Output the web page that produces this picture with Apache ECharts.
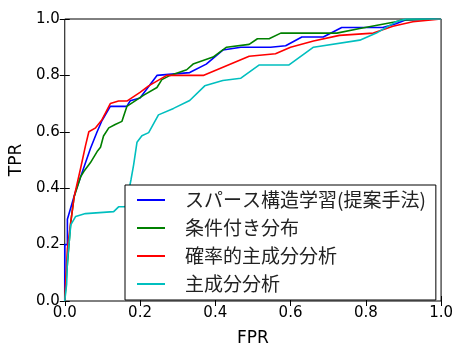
<!DOCTYPE html>
<html>
<head>
<meta charset="utf-8">
<script src="https://cdn.jsdelivr.net/npm/echarts@6/dist/echarts.min.js"></script>
<style>
    html, body { margin: 0; padding: 0; background: #fff; }
    #roc { width: 456px; height: 352px; }
</style>
</head>
<body>
<div id="roc"></div>
<script>
    // 凡例の名前
    const seriesNames = ['スパース構造学習(提案手法)', '条件付き分布', '確率的主成分分析', '主成分分析']
    const seriesColors = ['#0000ff', '#008000', '#ff0000', '#00bfbf']
    const tickValues = [0, 0.2, 0.4, 0.6, 0.8, 1.0]

    // スパース構造学習(提案手法)
    const fprSparse = [0, 0, 0.007, 0.007, 0.01, 0.029, 0.042, 0.068, 0.077, 0.086, 0.099, 0.121, 0.165, 0.174, 0.2, 0.245, 0.332, 0.376, 0.42, 0.468, 0.547, 0.587, 0.63, 0.687, 0.736, 0.845, 0.88, 0.907, 1]
    const tprSparse = [0, 0.2, 0.2, 0.29, 0.29, 0.39, 0.44, 0.54, 0.57, 0.6, 0.64, 0.69, 0.69, 0.71, 0.72, 0.8, 0.81, 0.84, 0.89, 0.9, 0.9, 0.905, 0.936, 0.936, 0.97, 0.97, 0.983, 0.997, 1]

    // 条件付き分布
    const fprCond = [0, 0.005, 0.007, 0.016, 0.025, 0.042, 0.051, 0.068, 0.086, 0.095, 0.103, 0.117, 0.134, 0.152, 0.165, 0.21, 0.245, 0.258, 0.28, 0.324, 0.341, 0.394, 0.43, 0.49, 0.512, 0.543, 0.574, 0.723, 0.784, 0.88, 0.897, 1]
    const tprCond = [0, 0.1, 0.13, 0.28, 0.37, 0.44, 0.46, 0.49, 0.53, 0.545, 0.585, 0.614, 0.626, 0.637, 0.69, 0.73, 0.757, 0.785, 0.8, 0.82, 0.84, 0.865, 0.9, 0.91, 0.93, 0.93, 0.95, 0.95, 0.966, 0.99, 0.997, 1]

    // 確率的主成分分析
    const fprPpca = [0, 0.007, 0.016, 0.025, 0.042, 0.055, 0.064, 0.082, 0.099, 0.121, 0.143, 0.165, 0.2, 0.223, 0.271, 0.368, 0.49, 0.56, 0.6, 0.661, 0.73, 0.82, 0.872, 0.925, 1]
    const tprPpca = [0, 0.186, 0.28, 0.37, 0.47, 0.55, 0.6, 0.614, 0.643, 0.7, 0.709, 0.709, 0.74, 0.763, 0.8, 0.8, 0.868, 0.877, 0.9, 0.922, 0.942, 0.95, 0.974, 0.99, 1]

    // 主成分分析
    const fprPca = [0, 0.005, 0.007, 0.016, 0.029, 0.055, 0.06, 0.13, 0.143, 0.161, 0.165, 0.176, 0.183, 0.192, 0.205, 0.223, 0.249, 0.289, 0.332, 0.372, 0.42, 0.468, 0.517, 0.596, 0.661, 0.784, 0.828, 0.88, 0.907, 1]
    const tprPca = [0, 0.06, 0.14, 0.27, 0.3, 0.31, 0.317, 0.317, 0.334, 0.334, 0.357, 0.43, 0.483, 0.563, 0.586, 0.597, 0.66, 0.683, 0.711, 0.763, 0.782, 0.79, 0.837, 0.837, 0.9, 0.925, 0.95, 0.99, 1, 1]

    function zipPoints (xs, ys) {
        return xs.map((x, i) => [x, ys[i]])
    }

    const curves = [
        zipPoints(fprSparse, tprSparse),
        zipPoints(fprCond, tprCond),
        zipPoints(fprPpca, tprPpca),
        zipPoints(fprPca, tprPca)
    ]

    const tickFont = { fontFamily: 'DejaVu Sans', fontSize: 15, color: '#000' }

    function makeAxis (extra) {
        return Object.assign({
            type: 'value',
            min: 0,
            max: 1,
            interval: 0.2,
            axisLine: { show: false },
            axisTick: { show: true, inside: true, length: 5, lineStyle: { color: '#000', width: 1 } },
            splitLine: { show: false },
            axisLabel: Object.assign({ formatter: v => v.toFixed(1) }, tickFont)
        }, extra)
    }

    const chart = echarts.init(document.getElementById('roc'))
    chart.setOption({
        animation: false,
        grid: {
            left: 62,
            right: 14,
            top: 19,
            bottom: 41,
            show: true,
            borderColor: '#000',
            borderWidth: 1,
            backgroundColor: 'transparent'
        },
        legend: {
            data: seriesNames,
            orient: 'vertical',
            left: 125,
            top: 185,
            padding: [5, 10, 6, 12],
            itemGap: 8,
            itemWidth: 28,
            itemHeight: 2,
            icon: 'rect',
            backgroundColor: '#fff',
            borderColor: '#000',
            borderWidth: 1,
            borderRadius: 0,
            selectedMode: false,
            textStyle: {
                fontFamily: 'Noto Sans CJK JP',
                fontSize: 19,
                lineHeight: 20,
                color: '#222',
                padding: [0, 0, 0, 15]
            }
        },
        xAxis: [
            makeAxis({
                position: 'bottom',
                name: 'FPR',
                nameLocation: 'middle',
                nameGap: 29,
                nameTextStyle: { fontFamily: 'DejaVu Sans', fontSize: 17, color: '#000' },
                axisLabel: Object.assign({ formatter: v => v.toFixed(1), margin: 5 }, tickFont)
            }),
            makeAxis({ position: 'top', axisLabel: { show: false } })
        ],
        yAxis: [
            makeAxis({
                position: 'left',
                name: 'TPR',
                nameLocation: 'middle',
                nameGap: 33,
                nameTextStyle: { fontFamily: 'DejaVu Sans', fontSize: 17, color: '#000' },
                axisLabel: Object.assign({ formatter: v => v.toFixed(1), margin: 5 }, tickFont)
            }),
            makeAxis({ position: 'right', axisLabel: { show: false } })
        ],
        series: seriesNames.map((name, i) => ({
            name: name,
            type: 'line',
            data: curves[i],
            symbol: 'none',
            color: seriesColors[i],
            lineStyle: { color: seriesColors[i], width: 1.6 },
            clip: true
        }))
    })
</script>
</body>
</html>
